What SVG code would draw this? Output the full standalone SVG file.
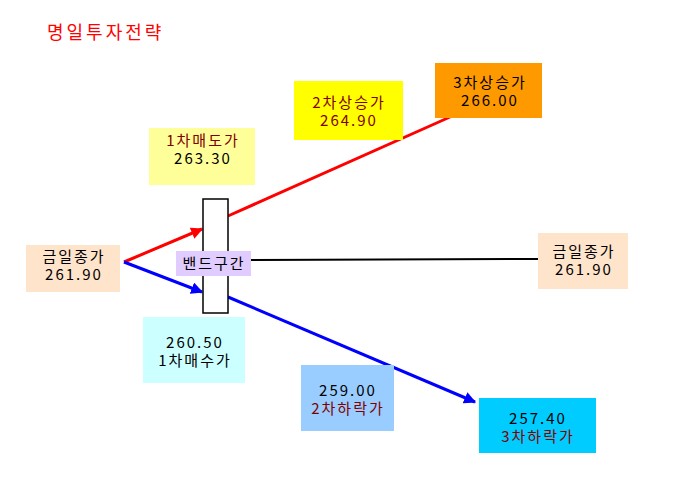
<svg xmlns="http://www.w3.org/2000/svg" width="678" height="486" viewBox="0 0 678 486">
<style>
text{font-family:"Noto Sans CJK KR","Liberation Sans",sans-serif;font-size:15px;letter-spacing:2px;text-anchor:middle;fill:#000}
.dr{fill:#800000}
.title{font-size:18px;letter-spacing:3px;fill:#FF0000;text-anchor:start}
.red{stroke:#FF0000;stroke-width:3;fill:none}
.blue{stroke:#0000FF;stroke-width:3;fill:none}
</style>
<defs>
<marker id="ar" viewBox="0 0 10 10" refX="9" refY="5" markerWidth="4" markerHeight="4" orient="auto" markerUnits="strokeWidth">
<path d="M0,0 L10,5 L0,10 z" fill="#FF0000"/>
</marker>
<marker id="ab" viewBox="0 0 10 10" refX="9" refY="5" markerWidth="4" markerHeight="4" orient="auto" markerUnits="strokeWidth">
<path d="M0,0 L10,5 L0,10 z" fill="#0000FF"/>
</marker>
</defs>
<rect width="678" height="486" fill="#fff"/>
<text class="title" x="47" y="39">명일투자전략</text>
<g id="connectors">
<line class="red" x1="124" y1="262" x2="202" y2="229" marker-end="url(#ar)"/>
<line class="red" x1="228" y1="216" x2="450" y2="117"/>
<line class="blue" x1="124" y1="262" x2="202" y2="292" marker-end="url(#ab)"/>
<line class="blue" x1="228" y1="297" x2="475" y2="402" marker-end="url(#ab)"/>
<line x1="251" y1="260" x2="538" y2="259" stroke="#000" stroke-width="2"/>
</g>
<g id="band"><rect x="203" y="199" width="25" height="114" fill="#fff" stroke="#000" stroke-width="1.5"/></g>
<g id="band-label"><rect x="176" y="251" width="75" height="25" fill="#E1CCFF"/><text x="214" y="269">밴드구간</text></g>
<g id="close-left"><rect x="26" y="245" width="94" height="47" fill="#FFE4CC"/><text x="74" y="262">금일종가</text><text x="74" y="280">261.90</text></g>
<g id="close-right"><rect x="538" y="233" width="90" height="56" fill="#FFE4CC"/><text x="584" y="257">금일종가</text><text x="584" y="275">261.90</text></g>
<g id="sell1"><rect x="149" y="128" width="106" height="57" fill="#FFFF99"/><text class="dr" x="203" y="146">1차매도가</text><text x="203" y="164">263.30</text></g>
<g id="rise2"><rect x="294" y="81" width="109" height="59" fill="#FFFF00"/><text class="dr" x="349" y="108">2차상승가</text><text class="dr" x="349" y="126">264.90</text></g>
<g id="rise3"><rect x="435" y="63" width="107" height="55" fill="#FF9900"/><text x="490" y="88">3차상승가</text><text x="490" y="106">266.00</text></g>
<g id="buy1"><rect x="143" y="317" width="102" height="66" fill="#CCFFFF"/><text x="195" y="348">260.50</text><text x="195" y="366">1차매수가</text></g>
<g id="fall2"><rect x="301" y="365" width="93" height="66" fill="#99CCFF"/><text x="348" y="396">259.00</text><text class="dr" x="348" y="414">2차하락가</text></g>
<g id="fall3"><rect x="479" y="398" width="117" height="55" fill="#00CCFF"/><text x="538" y="424">257.40</text><text class="dr" x="538" y="442">3차하락가</text></g>
</svg>
